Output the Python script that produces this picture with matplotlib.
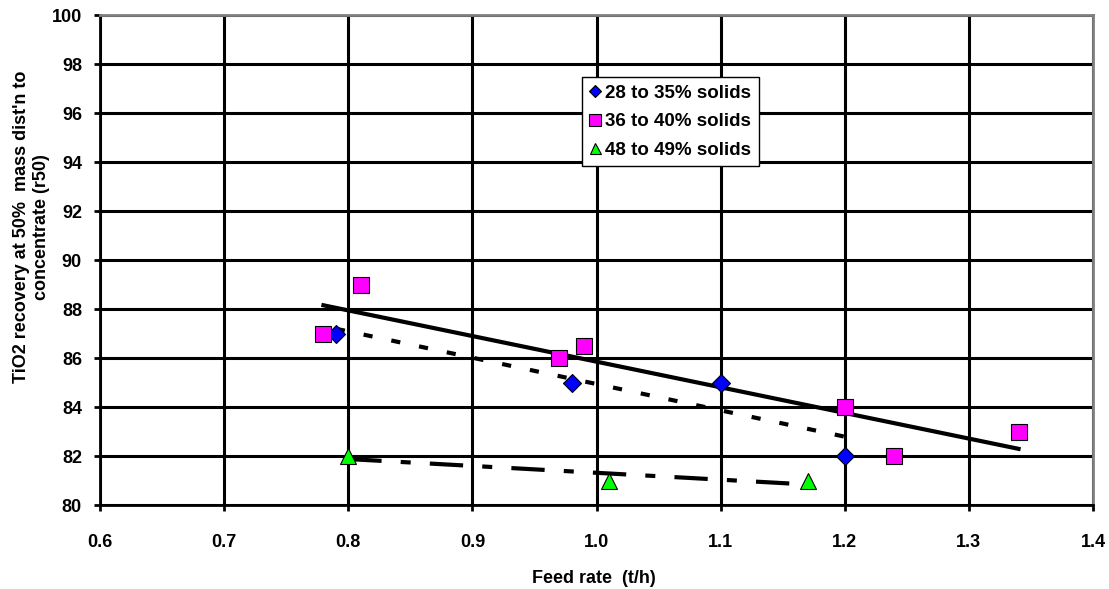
import numpy as np
import matplotlib
matplotlib.use("Agg")
import matplotlib.pyplot as plt

plt.rcParams["font.family"] = ["Liberation Sans", "DejaVu Sans"]
plt.rcParams["font.weight"] = "bold"

# 28 to 35% solids
feed_a = [0.79, 0.98, 1.10, 1.20]
rec_a = [87, 85, 85, 82]
# 36 to 40% solids
feed_b = [0.78, 0.81, 0.97, 0.99, 1.20, 1.24, 1.34]
rec_b = [87, 89, 86, 86.5, 84, 82, 83]
# 48 to 49% solids
feed_c = [0.80, 1.01, 1.17]
rec_c = [82, 81, 81]

labels = ["28 to 35% solids", "36 to 40% solids", "48 to 49% solids"]
x_ticks = [0.6, 0.7, 0.8, 0.9, 1.0, 1.1, 1.2, 1.3, 1.4]
y_ticks = list(range(80, 101, 2))

fig = plt.figure(figsize=(11.09, 5.89), dpi=100)
ax = fig.add_axes([0.0902, 0.1426, 0.8954, 0.8319])

ax.set_xlim(0.6, 1.4)
ax.set_ylim(80, 100)
ax.set_xticks(x_ticks)
ax.set_yticks(y_ticks)
ax.set_xticklabels(["%.1f" % v for v in x_ticks])
ax.grid(True, color="black", linewidth=2.2)
ax.set_axisbelow(True)
ax.tick_params(direction="out", length=4, width=2, labelsize=13)
ax.tick_params(axis="y", pad=9)
ax.tick_params(axis="x", pad=17)
for lab in ax.get_xticklabels() + ax.get_yticklabels():
    lab.set_fontweight("bold")
for side in ["left", "bottom"]:
    ax.spines[side].set_linewidth(2)
for side in ["top", "right"]:
    ax.spines[side].set_color("#808080")
    ax.spines[side].set_linewidth(2)


def trend(xs, ys, style):
    k, b = np.polyfit(xs, ys, 1)
    xx = np.array([min(xs), max(xs)])
    ax.plot(xx, k * xx + b, color="black", linewidth=3, linestyle=style, zorder=3)


trend(feed_a, rec_a, (0, (2.2, 4.6)))
trend(feed_b, rec_b, "-")
trend(feed_c, rec_c, (0, (8, 4.6, 2.4, 4.6)))

ax.plot(feed_a, rec_a, "D", color="#0000ff", markeredgecolor="black",
        markersize=9, markeredgewidth=0.8, linestyle="none", label=labels[0], zorder=4)
ax.plot(feed_b, rec_b, "s", color="#ff00ff", markeredgecolor="black",
        markersize=12, markeredgewidth=0.8, linestyle="none", label=labels[1], zorder=4)
ax.plot(feed_c, rec_c, "^", color="#00ff00", markeredgecolor="black",
        markersize=11, markeredgewidth=0.8, linestyle="none", label=labels[2], zorder=4)

leg = ax.legend(loc="upper left", bbox_to_anchor=(0.485, 0.873), frameon=True,
                fancybox=False, shadow=False, edgecolor="black", framealpha=1,
                prop={"size": 13.5, "weight": "bold"}, handlelength=0.6,
                handletextpad=0.25, borderpad=0.4, labelspacing=0.6,
                markerscale=0.72, borderaxespad=0)
leg.get_frame().set_linewidth(1)

ax.set_xlabel("Feed rate  (t/h)", fontsize=13, fontweight="bold")
ax.set_ylabel("TiO2 recovery at 50%  mass dist'n to\nconcentrate (r50)",
              fontsize=13, fontweight="bold", linespacing=1.25)
ax.xaxis.set_label_coords(0.497, -0.133)
ax.yaxis.set_label_coords(-0.050, 0.568)

fig.savefig("out.png", dpi=100)
